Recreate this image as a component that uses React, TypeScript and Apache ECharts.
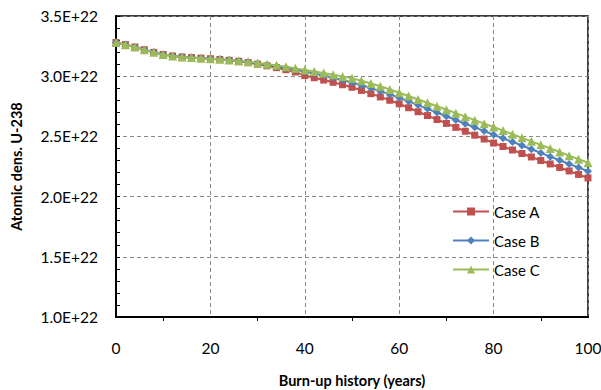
import React, { useEffect, useRef } from "react";
import * as echarts from "echarts";

const years = [0,2,4,6,8,10,12,14,16,18,20,22,24,26,28,30,32,34,36,38,40,42,44,46,48,50,52,54,56,58,60,62,64,66,68,70,72,74,76,78,80,82,84,86,88,90,92,94,96,98,100];

// Atomic density in units of 1E+22
const caseA = [3.280,3.262,3.242,3.220,3.198,3.180,3.168,3.160,3.155,3.150,3.145,3.139,3.132,3.124,3.113,3.100,3.086,3.071,3.054,3.035,3.005,2.987,2.968,2.949,2.929,2.908,2.882,2.855,2.828,2.800,2.771,2.738,2.705,2.673,2.640,2.608,2.575,2.543,2.510,2.478,2.445,2.416,2.387,2.358,2.329,2.300,2.271,2.242,2.213,2.184,2.155];
const caseB = [3.280,3.262,3.242,3.220,3.198,3.180,3.168,3.160,3.155,3.150,3.145,3.140,3.134,3.127,3.117,3.105,3.094,3.082,3.069,3.054,3.038,3.022,3.005,2.987,2.968,2.947,2.925,2.901,2.876,2.849,2.821,2.791,2.760,2.729,2.698,2.667,2.636,2.605,2.575,2.544,2.514,2.484,2.454,2.424,2.393,2.363,2.332,2.302,2.271,2.241,2.211];
const caseC = [3.280,3.262,3.242,3.220,3.198,3.180,3.168,3.160,3.155,3.150,3.145,3.140,3.134,3.127,3.119,3.110,3.100,3.090,3.078,3.065,3.052,3.040,3.026,3.012,2.998,2.982,2.962,2.940,2.916,2.890,2.862,2.835,2.807,2.779,2.750,2.721,2.693,2.664,2.635,2.606,2.578,2.548,2.518,2.488,2.459,2.430,2.400,2.370,2.340,2.310,2.282];

const seriesNames = ["Case A", "Case B", "Case C"];
const colors = ["#C0504D", "#4F81BD", "#9BBB59"];

const FONT = "Lato, 'Open Sans', sans-serif";

export default function App() {
  const ref = useRef<HTMLDivElement>(null);
  useEffect(() => {
    if (!ref.current) return;
    const chart = echarts.init(ref.current, null, { renderer: "svg" });
    const mk = (vals: number[]) => years.map((x, i) => [x, vals[i]]);
    const symbols = ["rect", "diamond", "triangle"];
    const sizes = [7, 8, 9];
    const datas = [caseA, caseB, caseC];
    chart.setOption({
      animation: false,
      textStyle: { fontFamily: FONT },
      grid: {
        left: 116,
        right: 13,
        top: 16,
        bottom: 73,
        show: true,
        borderColor: "#000",
        borderWidth: 1.5,
        containLabel: false,
        outerBoundsMode: "none",
      },
      legend: {
        show: true,
        orient: "vertical",
        left: 447,
        top: 199,
        itemWidth: 36,
        itemHeight: 10,
        itemGap: 14,
        selectedMode: false,
        textStyle: { fontSize: 15, color: "#000", fontFamily: FONT },
        data: seriesNames,
      },
      xAxis: {
        type: "value",
        min: 0,
        max: 100,
        interval: 20,
        name: "Burn-up history (years)",
        nameLocation: "middle",
        nameGap: 56,
        nameTextStyle: { fontWeight: "bold", fontSize: 14.5, color: "#000", fontFamily: FONT },
        axisLine: { show: true, lineStyle: { color: "#000", width: 2 } },
        axisTick: { show: false },
        minorTick: { show: true, splitNumber: 2, length: 4, lineStyle: { color: "#000", width: 1 } },
        axisLabel: { fontSize: 15.5, color: "#000", margin: 23, fontFamily: FONT },
        splitLine: { show: true, lineStyle: { color: "#888", type: [4, 3], width: 1 } },
      },
      yAxis: {
        type: "value",
        min: 1.0,
        max: 3.5,
        interval: 0.5,
        name: "Atomic dens. U-238",
        nameLocation: "middle",
        nameGap: 92,
        nameTextStyle: { fontWeight: "bold", fontSize: 14.5, color: "#000", fontFamily: FONT },
        axisLine: { show: true, lineStyle: { color: "#000", width: 2 } },
        axisTick: { show: true, inside: true, length: 4, lineStyle: { color: "#000" } },
        minorTick: { show: true, splitNumber: 5, length: 4, lineStyle: { color: "#000", width: 1 } },
        axisLabel: {
          fontSize: 15.5,
          color: "#000",
          margin: 18,
          fontFamily: FONT,
          formatter: (v: number) => v.toFixed(1) + "E+22",
        },
        splitLine: { show: true, lineStyle: { color: "#888", type: [4, 3], width: 1 } },
      },
      series: seriesNames.map((name, i) => ({
        name,
        type: "line",
        data: mk(datas[i]),
        symbol: symbols[i],
        symbolSize: sizes[i],
        showAllSymbol: true,
        color: colors[i],
        itemStyle: { color: colors[i] },
        lineStyle: { color: colors[i], width: 2 },
        z: 2 + i,
      })),
    });
    return () => chart.dispose();
  }, []);
  return <div ref={ref} style={{ width: 601, height: 390, position: "absolute", left: 0, top: 0 }} />;
}
